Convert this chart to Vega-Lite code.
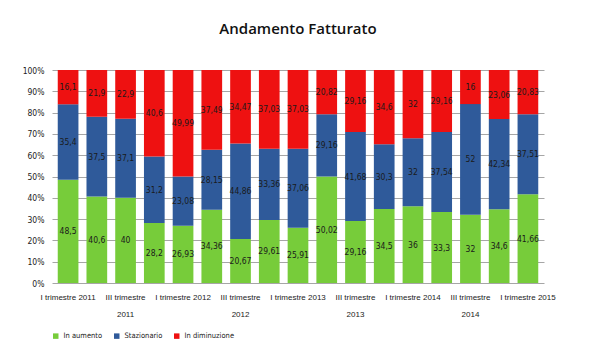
{
  "$schema": "https://vega.github.io/schema/vega-lite/v6.json",
  "autosize": {"type": "fit", "contains": "padding"},
  "width": 600,
  "height": 360,
  "padding": {"left": 22, "right": 48, "top": 22, "bottom": 20},
  "background": "white",
  "title": {"text": "Andamento Fatturato", "font": "Open Sans", "fontSize": 15, "fontWeight": 600, "color": "#111111", "offset": 29},
  "data": {"values": [
    {"q": "I trimestre 2011", "i": 1, "s": "In aumento", "o": 1, "v": 48.5},
    {"q": "I trimestre 2011", "i": 1, "s": "Stazionario", "o": 2, "v": 35.4},
    {"q": "I trimestre 2011", "i": 1, "s": "In diminuzione", "o": 3, "v": 16.1},
    {"q": "II trimestre 2011", "i": 2, "s": "In aumento", "o": 1, "v": 40.6},
    {"q": "II trimestre 2011", "i": 2, "s": "Stazionario", "o": 2, "v": 37.5},
    {"q": "II trimestre 2011", "i": 2, "s": "In diminuzione", "o": 3, "v": 21.9},
    {"q": "III trimestre 2011", "i": 3, "s": "In aumento", "o": 1, "v": 40},
    {"q": "III trimestre 2011", "i": 3, "s": "Stazionario", "o": 2, "v": 37.1},
    {"q": "III trimestre 2011", "i": 3, "s": "In diminuzione", "o": 3, "v": 22.9},
    {"q": "IV trimestre 2011", "i": 4, "s": "In aumento", "o": 1, "v": 28.2},
    {"q": "IV trimestre 2011", "i": 4, "s": "Stazionario", "o": 2, "v": 31.2},
    {"q": "IV trimestre 2011", "i": 4, "s": "In diminuzione", "o": 3, "v": 40.6},
    {"q": "I trimestre 2012", "i": 5, "s": "In aumento", "o": 1, "v": 26.93},
    {"q": "I trimestre 2012", "i": 5, "s": "Stazionario", "o": 2, "v": 23.08},
    {"q": "I trimestre 2012", "i": 5, "s": "In diminuzione", "o": 3, "v": 49.99},
    {"q": "II trimestre 2012", "i": 6, "s": "In aumento", "o": 1, "v": 34.36},
    {"q": "II trimestre 2012", "i": 6, "s": "Stazionario", "o": 2, "v": 28.15},
    {"q": "II trimestre 2012", "i": 6, "s": "In diminuzione", "o": 3, "v": 37.49},
    {"q": "III trimestre 2012", "i": 7, "s": "In aumento", "o": 1, "v": 20.67},
    {"q": "III trimestre 2012", "i": 7, "s": "Stazionario", "o": 2, "v": 44.86},
    {"q": "III trimestre 2012", "i": 7, "s": "In diminuzione", "o": 3, "v": 34.47},
    {"q": "IV trimestre 2012", "i": 8, "s": "In aumento", "o": 1, "v": 29.61},
    {"q": "IV trimestre 2012", "i": 8, "s": "Stazionario", "o": 2, "v": 33.36},
    {"q": "IV trimestre 2012", "i": 8, "s": "In diminuzione", "o": 3, "v": 37.03},
    {"q": "I trimestre 2013", "i": 9, "s": "In aumento", "o": 1, "v": 25.91},
    {"q": "I trimestre 2013", "i": 9, "s": "Stazionario", "o": 2, "v": 37.06},
    {"q": "I trimestre 2013", "i": 9, "s": "In diminuzione", "o": 3, "v": 37.03},
    {"q": "II trimestre 2013", "i": 10, "s": "In aumento", "o": 1, "v": 50.02},
    {"q": "II trimestre 2013", "i": 10, "s": "Stazionario", "o": 2, "v": 29.16},
    {"q": "II trimestre 2013", "i": 10, "s": "In diminuzione", "o": 3, "v": 20.82},
    {"q": "III trimestre 2013", "i": 11, "s": "In aumento", "o": 1, "v": 29.16},
    {"q": "III trimestre 2013", "i": 11, "s": "Stazionario", "o": 2, "v": 41.68},
    {"q": "III trimestre 2013", "i": 11, "s": "In diminuzione", "o": 3, "v": 29.16},
    {"q": "IV trimestre 2013", "i": 12, "s": "In aumento", "o": 1, "v": 34.5},
    {"q": "IV trimestre 2013", "i": 12, "s": "Stazionario", "o": 2, "v": 30.3},
    {"q": "IV trimestre 2013", "i": 12, "s": "In diminuzione", "o": 3, "v": 34.6},
    {"q": "I trimestre 2014", "i": 13, "s": "In aumento", "o": 1, "v": 36},
    {"q": "I trimestre 2014", "i": 13, "s": "Stazionario", "o": 2, "v": 32},
    {"q": "I trimestre 2014", "i": 13, "s": "In diminuzione", "o": 3, "v": 32},
    {"q": "II trimestre 2014", "i": 14, "s": "In aumento", "o": 1, "v": 33.3},
    {"q": "II trimestre 2014", "i": 14, "s": "Stazionario", "o": 2, "v": 37.54},
    {"q": "II trimestre 2014", "i": 14, "s": "In diminuzione", "o": 3, "v": 29.16},
    {"q": "III trimestre 2014", "i": 15, "s": "In aumento", "o": 1, "v": 32},
    {"q": "III trimestre 2014", "i": 15, "s": "Stazionario", "o": 2, "v": 52},
    {"q": "III trimestre 2014", "i": 15, "s": "In diminuzione", "o": 3, "v": 16},
    {"q": "IV trimestre 2014", "i": 16, "s": "In aumento", "o": 1, "v": 34.6},
    {"q": "IV trimestre 2014", "i": 16, "s": "Stazionario", "o": 2, "v": 42.34},
    {"q": "IV trimestre 2014", "i": 16, "s": "In diminuzione", "o": 3, "v": 23.06},
    {"q": "I trimestre 2015", "i": 17, "s": "In aumento", "o": 1, "v": 41.66},
    {"q": "I trimestre 2015", "i": 17, "s": "Stazionario", "o": 2, "v": 37.51},
    {"q": "I trimestre 2015", "i": 17, "s": "In diminuzione", "o": 3, "v": 20.83}
  ]},
  "transform": [
    {"stack": "v", "groupby": ["q"], "sort": [{"field": "o", "order": "ascending"}], "offset": "normalize", "as": ["y0", "y1"]},
    {"calculate": "(datum.y0 + datum.y1) / 2", "as": "ym"},
    {"calculate": "replace(toString(datum.v), '.', ',')", "as": "lab"}
  ],
  "encoding": {
    "x": {
      "field": "q", "type": "nominal", "sort": {"field": "i", "order": "ascending"},
      "scale": {"paddingInner": 0.28, "paddingOuter": 0.2},
      "axis": {
        "title": null, "labelAngle": 0, "domain": false, "ticks": false,
        "labelFont": "Liberation Sans", "labelFontSize": 8, "labelColor": "#222222",
        "labelPadding": 10, "labelOverlap": false, "labelLimit": 200,
        "labelExpr": "indexof(datum.label, 'II ') == 0 || indexof(datum.label, 'IV ') == 0 ? '' : (indexof(datum.label, 'III ') == 0 ? ['III trimestre', substring(datum.label, 14)] : datum.label)",
        "labelLineHeight": 17
      }
    }
  },
  "layer": [
    {
      "mark": {"type": "bar", "stroke": null},
      "encoding": {
        "y": {"field": "y0", "type": "quantitative", "scale": {"domain": [0, 1]},
          "axis": {"title": null, "format": ".0%", "values": [0, 0.1, 0.2, 0.3, 0.4, 0.5, 0.6, 0.7, 0.8, 0.9, 1],
            "labelOverlap": false, "domain": false, "ticks": false, "grid": true, "gridColor": "#8f8f8f", "gridWidth": 0.8,
            "labelFont": "DejaVu Sans Condensed", "labelFontSize": 8.5, "labelColor": "#222222", "labelPadding": 8}},
        "y2": {"field": "y1"},
        "color": {
          "field": "s", "type": "nominal",
          "scale": {"domain": ["In aumento", "Stazionario", "In diminuzione"], "range": ["#77cc3a", "#2f5a9a", "#ee1111"]},
          "legend": {"title": null, "orient": "bottom", "direction": "horizontal", "symbolType": "square", "symbolSize": 30,
            "labelFont": "DejaVu Sans Condensed", "labelFontSize": 7.5, "labelColor": "#222222", "columnPadding": 10, "offset": 14}
        }
      }
    },
    {
      "mark": {"type": "text", "font": "DejaVu Sans Condensed", "fontSize": 8.5, "color": "#1a1a1a"},
      "encoding": {
        "y": {"field": "ym", "type": "quantitative",
          "axis": {"title": null, "format": ".0%", "values": [0, 0.1, 0.2, 0.3, 0.4, 0.5, 0.6, 0.7, 0.8, 0.9, 1],
            "labelOverlap": false, "domain": false, "ticks": false, "grid": true, "gridColor": "#8f8f8f", "gridWidth": 0.8,
            "labelFont": "DejaVu Sans Condensed", "labelFontSize": 8.5, "labelColor": "#222222", "labelPadding": 8}},
        "text": {"field": "lab", "type": "nominal"}
      }
    }
  ],
  "config": {"view": {"stroke": null}}
}
